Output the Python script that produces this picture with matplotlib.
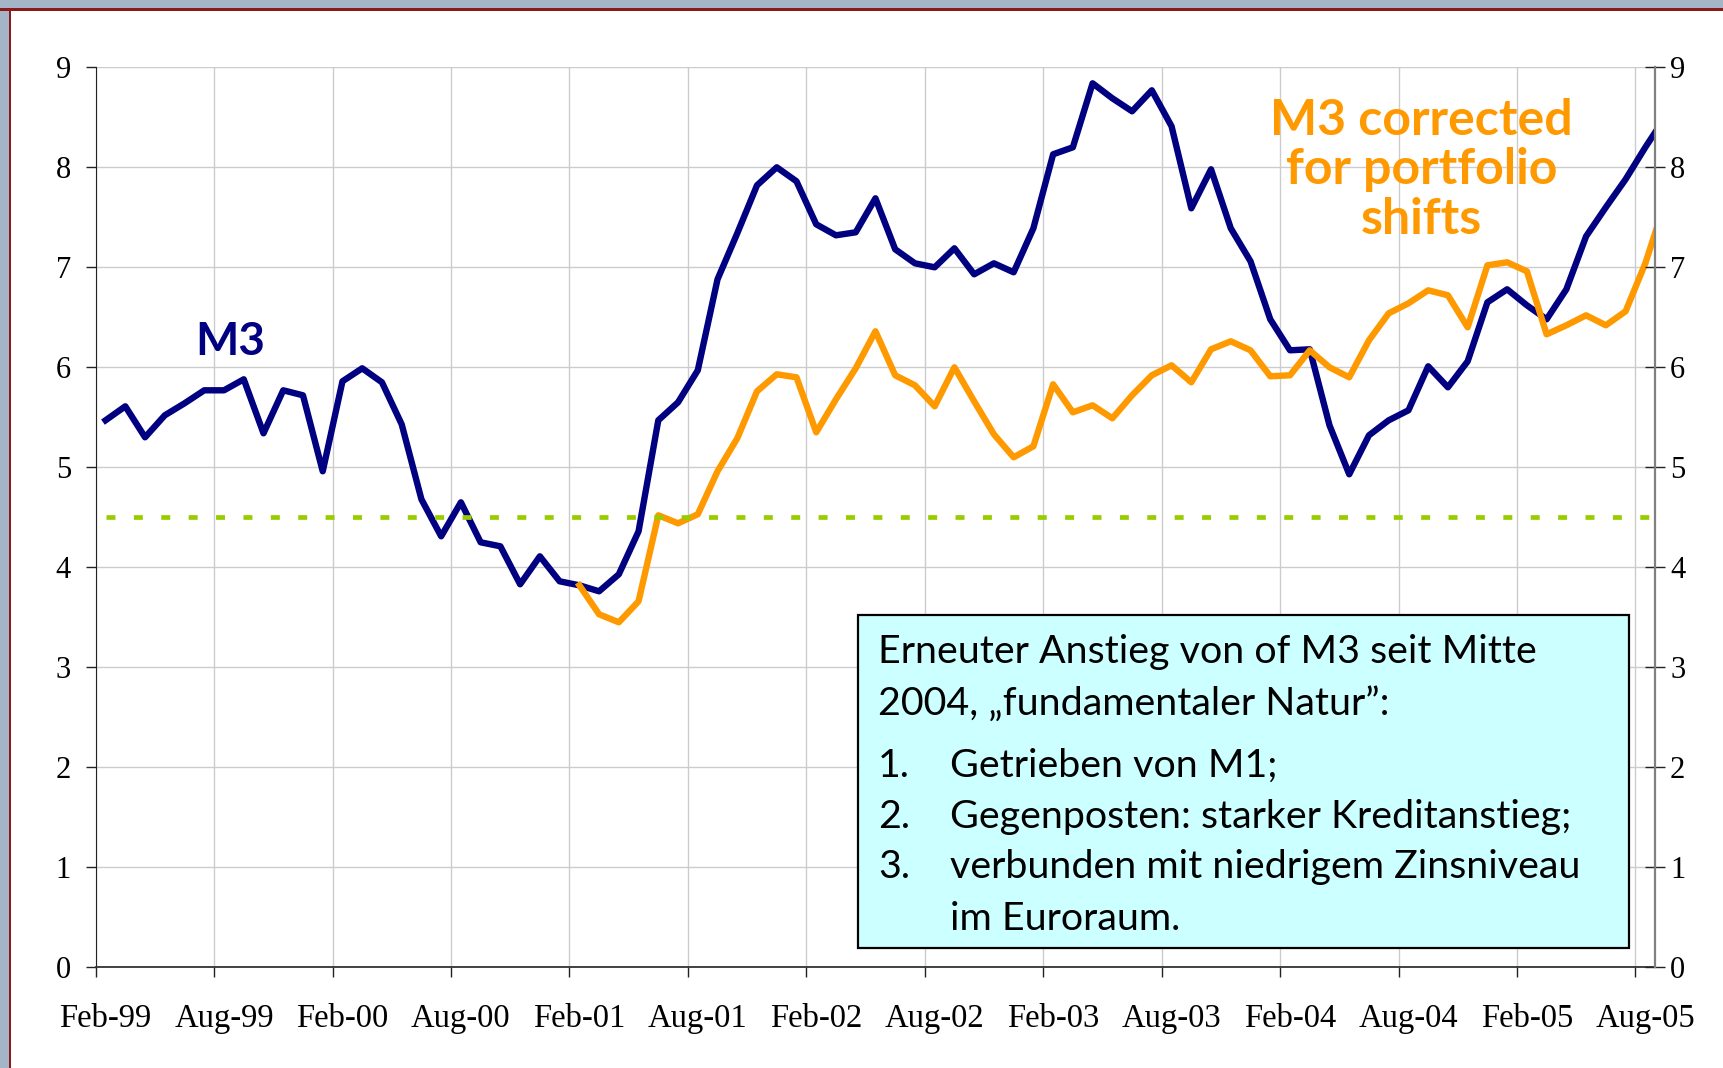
import matplotlib
matplotlib.use('Agg')
import matplotlib.pyplot as plt
from matplotlib.patches import Rectangle

# monatliche Werte, Feb-99 .. Sep-05 (der letzte Punkt liegt hinter der Achse)
m3 = [5.47, 5.61, 5.30, 5.52, 5.64, 5.77, 5.77, 5.88, 5.34, 5.77, 5.72, 4.96,
      5.86, 5.99, 5.85, 5.43, 4.68, 4.31, 4.65, 4.25, 4.21, 3.83, 4.11, 3.86,
      3.82, 3.76, 3.93, 4.36, 5.47, 5.65, 5.97, 6.88, 7.34, 7.82, 8.00, 7.86,
      7.43, 7.32, 7.35, 7.69, 7.18, 7.04, 7.00, 7.19, 6.93, 7.04, 6.95, 7.39,
      8.13, 8.20, 8.84, 8.69, 8.56, 8.77, 8.41, 7.59, 7.98, 7.39, 7.06, 6.48,
      6.17, 6.18, 5.42, 4.93, 5.32, 5.47, 5.57, 6.01, 5.80, 6.06, 6.65, 6.78,
      6.62, 6.48, 6.78, 7.31, 7.60, 7.88, 8.20, 8.50]

# M3 bereinigt um Portfolioumschichtungen, ab Feb-01
m3_corr_start = 24
m3_corr = [3.82, 3.53, 3.45, 3.66, 4.52, 4.44, 4.53, 4.96, 5.29, 5.76, 5.93, 5.90,
           5.35, 5.68, 5.99, 6.36, 5.92, 5.82, 5.61, 6.00, 5.66, 5.33, 5.10, 5.21,
           5.83, 5.55, 5.62, 5.49, 5.72, 5.92, 6.02, 5.85, 6.18, 6.26, 6.17, 5.91,
           5.92, 6.17, 6.00, 5.90, 6.27, 6.54, 6.64, 6.77, 6.72, 6.40, 7.02, 7.05,
           6.96, 6.33, 6.42, 6.52, 6.42, 6.56, 7.04, 7.65]

ref_value = 4.5  # Referenzwert

n_months = 79  # Feb-99 .. Aug-05 auf der Achse
tick_labels = ['Feb-99', 'Aug-99', 'Feb-00', 'Aug-00', 'Feb-01', 'Aug-01', 'Feb-02',
               'Aug-02', 'Feb-03', 'Aug-03', 'Feb-04', 'Aug-04', 'Feb-05', 'Aug-05']

box_lines = ['Erneuter Anstieg von of M3 seit Mitte',
             '2004, \u201efundamentaler Natur\u201d:']
box_items = [('1.', 'Getrieben von M1;'),
             ('2.', 'Gegenposten: starker Kreditanstieg;'),
             ('3.', 'verbunden mit niedrigem Zinsniveau'),
             ('', 'im Euroraum.')]

navy = '#000080'
orange = '#ff9900'
green = '#99cc00'
serif = 'Liberation Serif'
sans = ['Lato', 'DejaVu Sans']

W, H = 1724, 1068
fig = plt.figure(figsize=(W / 100, H / 100), dpi=100)
fig.patch.set_facecolor('white')

# Rahmen oben / links (Ausschnitt einer Folie)
fig.patches.append(Rectangle((0, 1 - 8 / H), 1, 8 / H, transform=fig.transFigure,
                             facecolor='#a4b5c8', edgecolor='none', zorder=0))
fig.patches.append(Rectangle((0, 0), 9 / W, 1, transform=fig.transFigure,
                             facecolor='#a4b5c8', edgecolor='none', zorder=0))
fig.patches.append(Rectangle((0, 1 - 10.5 / H), 1, 2.5 / H, transform=fig.transFigure,
                             facecolor='#8b1a1a', edgecolor='none', zorder=0))
fig.patches.append(Rectangle((9 / W, 0), 2 / W, 1 - 8 / H, transform=fig.transFigure,
                             facecolor='#8b1a1a', edgecolor='none', zorder=0))

left, right = 95.7 / W, 1655.2 / W
bottom, top = (H - 967.3) / H, (H - 67.3) / H
ax = fig.add_axes([left, bottom, right - left, top - bottom])

x_all = list(range(len(m3)))
x_corr = list(range(m3_corr_start, m3_corr_start + len(m3_corr)))

ax.plot(x_all, m3, color=navy, lw=4.6, zorder=3)
ax.plot(x_corr, m3_corr, color=orange, lw=4.6, zorder=4)
ax.hlines(ref_value, 0, len(m3) - 1, colors=green, lw=3.4, linestyles=(0, (1.9, 3.9)),
          zorder=5)

ax.set_xlim(-0.5, n_months - 0.5)
ax.set_ylim(0, 9)

# Gitter
major = [i - 0.5 for i in range(0, n_months, 6)]
ax.set_xticks(major)
ax.set_xticklabels([])
ax.set_xticks(list(range(0, n_months, 6)), minor=True)
ax.set_xticklabels(tick_labels, minor=True, fontfamily=serif, fontsize=23.5)
ax.tick_params(axis='x', which='major', direction='out', length=7.2, width=1, color='#222222')
ax.tick_params(axis='x', which='minor', length=0, pad=26)
ax.set_yticks(range(0, 10))
ax.set_yticklabels([str(v) for v in range(0, 10)], fontfamily=serif, fontsize=22)
ax.tick_params(axis='y', direction='out', length=7.2, width=1, color='#222222', pad=10.5)
ax.grid(True, which='major', color='#cccccc', lw=1)
ax.set_axisbelow(True)

for s in ['top', 'right']:
    ax.spines[s].set_visible(False)
ax.spines['left'].set_color('#222222')
ax.spines['bottom'].set_color('#333333')
ax.spines['bottom'].set_linewidth(1.3)

ax2 = ax.twinx()
ax2.set_ylim(0, 9)
ax2.set_yticks(range(0, 10))
ax2.set_yticklabels([str(v) for v in range(0, 10)], fontfamily=serif, fontsize=22)
ax2.tick_params(axis='y', direction='inout', length=14.4, width=1, color='#222222', pad=3.5)
for s in ['top', 'left', 'bottom']:
    ax2.spines[s].set_visible(False)
ax2.spines['right'].set_color('#808080')
ax2.spines['right'].set_linewidth(1.6)

# Beschriftungen der Reihen
fig.text(230.5 / W, 1 - 355 / H, 'M3', color=navy, fontfamily=sans, fontweight='bold',
         fontsize=33, ha='center', va='baseline')
for k, line in enumerate(['M3 corrected', 'for portfolio', 'shifts']):
    fig.text(1421.5 / W, 1 - (134.7 + 49.4 * k) / H, line, color=orange, fontfamily=sans,
             fontweight='bold', fontsize=36, ha='center', va='baseline')

# Kasten
fig.patches.append(Rectangle((857.7 / W, 1 - 948 / H), (1629 - 857.7) / W, (948 - 615) / H,
                             transform=fig.transFigure, facecolor='#ccffff',
                             edgecolor='black', lw=1.6, zorder=6))
baselines = [663, 715, 777, 828, 878, 930]
fs = 28.4
for k, line in enumerate(box_lines):
    fig.text(878 / W, 1 - baselines[k] / H, line, fontfamily=sans, fontsize=fs,
             ha='left', va='baseline', zorder=7)
for k, (num, txt) in enumerate(box_items):
    yb = 1 - baselines[k + 2] / H
    if num:
        fig.text(878 / W, yb, num, fontfamily=sans, fontsize=fs, ha='left', va='baseline',
                 zorder=7)
    fig.text(950 / W, yb, txt, fontfamily=sans, fontsize=fs, ha='left', va='baseline',
             zorder=7)

fig.savefig('out.png', dpi=100)
